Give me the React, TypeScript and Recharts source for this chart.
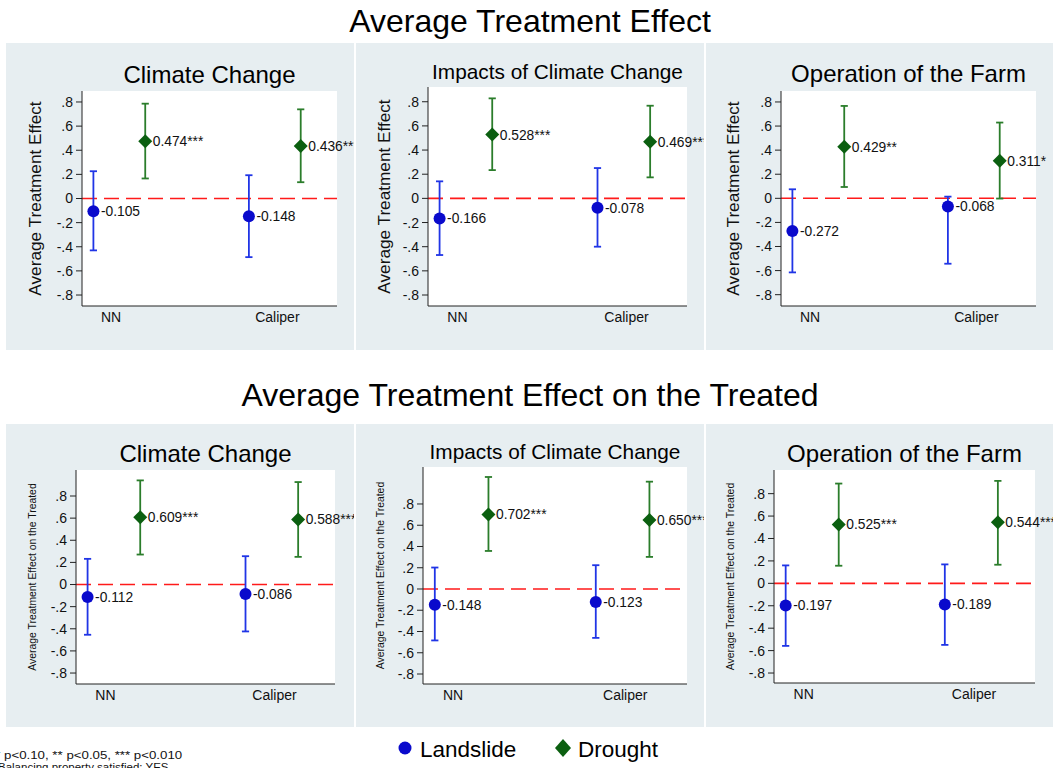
import React from "react";
import {
  ComposedChart,
  Scatter,
  ErrorBar,
  XAxis,
  YAxis,
  CartesianGrid,
  ReferenceLine,
} from "recharts";

// Matching methods on the x axis
const methods = ["NN", "Caliper"];
const methodTickValues = [1.34, 4.55];
const yTicks = [-0.8, -0.6, -0.4, -0.2, 0, 0.2, 0.4, 0.6, 0.8];

// Average Treatment Effect — Climate Change
const ateClimateLandslide = [-0.105, -0.148];
const ateClimateLandslideLo = [-0.43, -0.486];
const ateClimateLandslideHi = [0.226, 0.193];
const ateClimateDrought = [0.474, 0.436];
const ateClimateDroughtLo = [0.166, 0.135];
const ateClimateDroughtHi = [0.786, 0.739];
const ateClimateDroughtStars = ["***", "***"];

// Average Treatment Effect — Impacts of Climate Change
const ateImpactsLandslide = [-0.166, -0.078];
const ateImpactsLandslideLo = [-0.469, -0.4];
const ateImpactsLandslideHi = [0.141, 0.251];
const ateImpactsDrought = [0.528, 0.469];
const ateImpactsDroughtLo = [0.234, 0.174];
const ateImpactsDroughtHi = [0.828, 0.767];
const ateImpactsDroughtStars = ["***", "***"];

// Average Treatment Effect — Operation of the Farm
const ateFarmLandslide = [-0.272, -0.068];
const ateFarmLandslideLo = [-0.615, -0.543];
const ateFarmLandslideHi = [0.075, 0.014];
const ateFarmDrought = [0.429, 0.311];
const ateFarmDroughtLo = [0.094, -0.002];
const ateFarmDroughtHi = [0.767, 0.629];
const ateFarmDroughtStars = ["**", "*"];

// Average Treatment Effect on the Treated — Climate Change
const attClimateLandslide = [-0.112, -0.086];
const attClimateLandslideLo = [-0.454, -0.424];
const attClimateLandslideHi = [0.232, 0.256];
const attClimateDrought = [0.609, 0.588];
const attClimateDroughtLo = [0.271, 0.25];
const attClimateDroughtHi = [0.941, 0.926];
const attClimateDroughtStars = ["***", "***"];

// Average Treatment Effect on the Treated — Impacts of Climate Change
const attImpactsLandslide = [-0.148, -0.123];
const attImpactsLandslideLo = [-0.484, -0.46];
const attImpactsLandslideHi = [0.202, 0.224];
const attImpactsDrought = [0.702, 0.65];
const attImpactsDroughtLo = [0.358, 0.302];
const attImpactsDroughtHi = [1.054, 1.01];
const attImpactsDroughtStars = ["***", "***"];

// Average Treatment Effect on the Treated — Operation of the Farm
const attFarmLandslide = [-0.197, -0.189];
const attFarmLandslideLo = [-0.558, -0.549];
const attFarmLandslideHi = [0.16, 0.169];
const attFarmDrought = [0.525, 0.544];
const attFarmDroughtLo = [0.157, 0.166];
const attFarmDroughtHi = [0.89, 0.914];
const attFarmDroughtStars = ["***", "***"];

const FONT = "'Liberation Sans', Arial, Helvetica, sans-serif";
const PANEL_BG = "#e7eef1";
const BLUE_MARK = "#0a0acc";
const BLUE_LINE = "#2035e6";
const GREEN_MARK = "#0b5f10";
const GREEN_LINE = "#2b7d2b";

type Row = { x: number; value: number; err: [number, number]; label: string };

// landslide sits left of each method's slot, drought right of it
const buildRows = (
  est: number[],
  lo: number[],
  hi: number[],
  stars: string[] | null,
  side: number
): Row[] =>
  est.map((v, i) => ({
    x: 1.5 + 3 * i + side * 0.5,
    value: v,
    err: [v - lo[i], hi[i] - v],
    label: v.toFixed(3) + (stars ? stars[i] : ""),
  }));

const fmtY = (v: number) => {
  if (Math.abs(v) < 1e-9) return "0";
  const s = Math.abs(v).toFixed(1).replace(/^0/, "");
  return (v < 0 ? "-" : "") + s;
};

// grid lines only at the labelled ticks
const gridAtTicks = (props: any) => {
  const scale = props?.yAxis?.scale;
  if (typeof scale !== "function") return [];
  return yTicks.map((t) => scale(t));
};

const LandslideShape = (props: any) => {
  const { cx, cy, payload } = props;
  return (
    <g>
      <circle cx={cx} cy={cy} r={6} fill={BLUE_MARK} />
      <text x={cx + 7.5} y={cy} dy="0.36em" fontSize={13.8} fontFamily={FONT} fill="#111">
        {payload.label}
      </text>
    </g>
  );
};

const DroughtShape = (props: any) => {
  const { cx, cy, payload } = props;
  const d = 7;
  return (
    <g>
      <polygon
        points={`${cx},${cy - d} ${cx + d},${cy} ${cx},${cy + d} ${cx - d},${cy}`}
        fill={GREEN_MARK}
      />
      <text x={cx + 7.5} y={cy} dy="0.36em" fontSize={13.8} fontFamily={FONT} fill="#111">
        {payload.label}
      </text>
    </g>
  );
};

type Panel = {
  title: string;
  titleSize: number;
  titleBaseline: number;
  yLabel: string;
  yLabelSize: number;
  yLabelX: number;
  box: { x: number; y: number; w: number; h: number };
  plot: { l: number; r: number; t: number; b: number };
  yDomain: [number, number];
  landslide: Row[];
  drought: Row[];
};

const ATE_LABEL = "Average Treatment Effect";
const ATT_LABEL = "Average Treatment Effect on the Treated";

const panels: Panel[] = [
  {
    title: "Climate Change",
    titleSize: 24,
    titleBaseline: 83,
    yLabel: ATE_LABEL,
    yLabelSize: 17.2,
    yLabelX: 35,
    box: { x: 6, y: 43, w: 348, h: 307 },
    plot: { l: 82, r: 337, t: 91, b: 306 },
    yDomain: [-0.891, 0.891],
    landslide: buildRows(ateClimateLandslide, ateClimateLandslideLo, ateClimateLandslideHi, null, -1),
    drought: buildRows(ateClimateDrought, ateClimateDroughtLo, ateClimateDroughtHi, ateClimateDroughtStars, 1),
  },
  {
    title: "Impacts of Climate Change",
    titleSize: 20.8,
    titleBaseline: 79,
    yLabel: ATE_LABEL,
    yLabelSize: 17.2,
    yLabelX: 384,
    box: { x: 356, y: 43, w: 348, h: 307 },
    plot: { l: 428, r: 687, t: 87, b: 306 },
    yDomain: [-0.891, 0.922],
    landslide: buildRows(ateImpactsLandslide, ateImpactsLandslideLo, ateImpactsLandslideHi, null, -1),
    drought: buildRows(ateImpactsDrought, ateImpactsDroughtLo, ateImpactsDroughtHi, ateImpactsDroughtStars, 1),
  },
  {
    title: "Operation of the Farm",
    titleSize: 24,
    titleBaseline: 82,
    yLabel: ATE_LABEL,
    yLabelSize: 17.2,
    yLabelX: 733,
    box: { x: 706, y: 43, w: 347, h: 307 },
    plot: { l: 781, r: 1036, t: 91, b: 306 },
    yDomain: [-0.894, 0.891],
    landslide: buildRows(ateFarmLandslide, ateFarmLandslideLo, ateFarmLandslideHi, null, -1),
    drought: buildRows(ateFarmDrought, ateFarmDroughtLo, ateFarmDroughtHi, ateFarmDroughtStars, 1),
  },
  {
    title: "Climate Change",
    titleSize: 24,
    titleBaseline: 462,
    yLabel: ATT_LABEL,
    yLabelSize: 10.4,
    yLabelX: 32,
    box: { x: 6, y: 424, w: 348, h: 303 },
    plot: { l: 76, r: 335, t: 470, b: 684 },
    yDomain: [-0.899, 1.035],
    landslide: buildRows(attClimateLandslide, attClimateLandslideLo, attClimateLandslideHi, null, -1),
    drought: buildRows(attClimateDrought, attClimateDroughtLo, attClimateDroughtHi, attClimateDroughtStars, 1),
  },
  {
    title: "Impacts of Climate Change",
    titleSize: 20.8,
    titleBaseline: 459,
    yLabel: ATT_LABEL,
    yLabelSize: 10.4,
    yLabelX: 380,
    box: { x: 356, y: 424, w: 348, h: 303 },
    plot: { l: 423, r: 687, t: 467, b: 684 },
    yDomain: [-0.894, 1.148],
    landslide: buildRows(attImpactsLandslide, attImpactsLandslideLo, attImpactsLandslideHi, null, -1),
    drought: buildRows(attImpactsDrought, attImpactsDroughtLo, attImpactsDroughtHi, attImpactsDroughtStars, 1),
  },
  {
    title: "Operation of the Farm",
    titleSize: 24,
    titleBaseline: 462,
    yLabel: ATT_LABEL,
    yLabelSize: 10.4,
    yLabelX: 730,
    box: { x: 706, y: 424, w: 347, h: 303 },
    plot: { l: 774, r: 1035, t: 470, b: 683 },
    yDomain: [-0.889, 1.011],
    landslide: buildRows(attFarmLandslide, attFarmLandslideLo, attFarmLandslideHi, null, -1),
    drought: buildRows(attFarmDrought, attFarmDroughtLo, attFarmDroughtHi, attFarmDroughtStars, 1),
  },
];

const X_AXIS_H = 30;

const PanelChart = ({ p }: { p: Panel }) => {
  const { box, plot } = p;
  const left = plot.l - box.x;
  const right = box.x + box.w - plot.r;
  const top = plot.t - box.y;
  const bottom = box.y + box.h - plot.b;
  return (
    <div
      style={{
        position: "absolute",
        left: box.x,
        top: box.y,
        width: box.w,
        height: box.h,
        background: PANEL_BG,
        overflow: "hidden",
      }}
    >
      <ComposedChart
        width={box.w}
        height={box.h}
        margin={{ top, right, bottom: bottom - X_AXIS_H, left: 0 }}
        style={{ overflow: "hidden" }}
      >
        {/* white plot region */}
        <CartesianGrid horizontal={false} vertical={false} fill="#ffffff" stroke="none" />
        {/* dashed horizontal grid */}
        <CartesianGrid
          vertical={false}
          stroke="#dedede"
          strokeDasharray="14 8"
          fill="none"
          horizontalCoordinatesGenerator={gridAtTicks}
        />
        <XAxis
          type="number"
          dataKey="x"
          domain={[0.78, 5.7]}
          ticks={methodTickValues}
          interval={0}
          tickFormatter={(v: number) => methods[methodTickValues.indexOf(v)]}
          tickLine={false}
          tickSize={4}
          tickMargin={2}
          height={X_AXIS_H}
          axisLine={{ stroke: "#222", strokeWidth: 1 }}
          tick={{ fontSize: 14, fill: "#111", fontFamily: FONT }}
        />
        <YAxis
          type="number"
          dataKey="value"
          domain={p.yDomain}
          ticks={yTicks}
          interval={0}
          tickFormatter={fmtY}
          width={left}
          tickSize={6}
          tickMargin={3}
          axisLine={{ stroke: "#222", strokeWidth: 1 }}
          tickLine={{ stroke: "#222", strokeWidth: 1 }}
          tick={{ fontSize: 14, fill: "#111", fontFamily: FONT }}
        />
        <ReferenceLine y={0} stroke="#ff1a1a" strokeWidth={1.6} strokeDasharray="15 7" />
        <Scatter
          name="Landslide"
          data={p.landslide}
          isAnimationActive={false}
          shape={LandslideShape}
        >
          <ErrorBar
            dataKey="err"
            direction="y"
            width={3.6}
            stroke={BLUE_LINE}
            strokeWidth={1.8}
            isAnimationActive={false}
          />
        </Scatter>
        <Scatter
          name="Drought"
          data={p.drought}
          isAnimationActive={false}
          shape={DroughtShape}
        >
          <ErrorBar
            dataKey="err"
            direction="y"
            width={3.6}
            stroke={GREEN_LINE}
            strokeWidth={1.8}
            isAnimationActive={false}
          />
        </Scatter>
      </ComposedChart>
    </div>
  );
};

export default function App() {
  return (
    <div
      style={{
        position: "absolute",
        left: 0,
        top: 0,
        width: 1053,
        height: 768,
        background: "#ffffff",
        overflow: "hidden",
        fontFamily: FONT,
      }}
    >
      {panels.map((p, i) => (
        <PanelChart key={i} p={p} />
      ))}
      <svg
        width={1053}
        height={768}
        style={{ position: "absolute", left: 0, top: 0, pointerEvents: "none" }}
        fontFamily={FONT}
      >
        <text x={530} y={32} fontSize={32} textAnchor="middle" fill="#000">
          Average Treatment Effect
        </text>
        <text x={530} y={406} fontSize={32} textAnchor="middle" fill="#000">
          Average Treatment Effect on the Treated
        </text>
        {panels.map((p, i) => {
          const cx = (p.plot.l + p.plot.r) / 2;
          const cy = (p.plot.t + p.plot.b) / 2;
          return (
            <g key={i}>
              <text
                x={cx}
                y={p.titleBaseline}
                fontSize={p.titleSize}
                textAnchor="middle"
                fill="#000"
              >
                {p.title}
              </text>
              <text
                x={p.yLabelX}
                y={cy}
                fontSize={p.yLabelSize}
                textAnchor="middle"
                dominantBaseline="central"
                transform={`rotate(-90 ${p.yLabelX} ${cy})`}
                fill="#111"
              >
                {p.yLabel}
              </text>
            </g>
          );
        })}
        {/* legend */}
        <rect x={390} y={727} width={278} height={45} fill="#ffffff" />
        <circle cx={405} cy={748} r={6.5} fill={BLUE_MARK} />
        <text x={420} y={757} fontSize={22.5} fill="#000">
          Landslide
        </text>
        <polygon points="563,739 571,748 563,757 555,748" fill={GREEN_MARK} />
        <text x={578} y={757} fontSize={22.5} fill="#000">
          Drought
        </text>
        {/* notes */}
        <text x={-4.8} y={759} fontSize={11.5} fill="#111" textLength={187} lengthAdjust="spacingAndGlyphs">
          * p&lt;0.10, ** p&lt;0.05, *** p&lt;0.010
        </text>
        <text x={-2} y={771} fontSize={11.5} fill="#111">
          Balancing property satisfied:  YES
        </text>
      </svg>
    </div>
  );
}
